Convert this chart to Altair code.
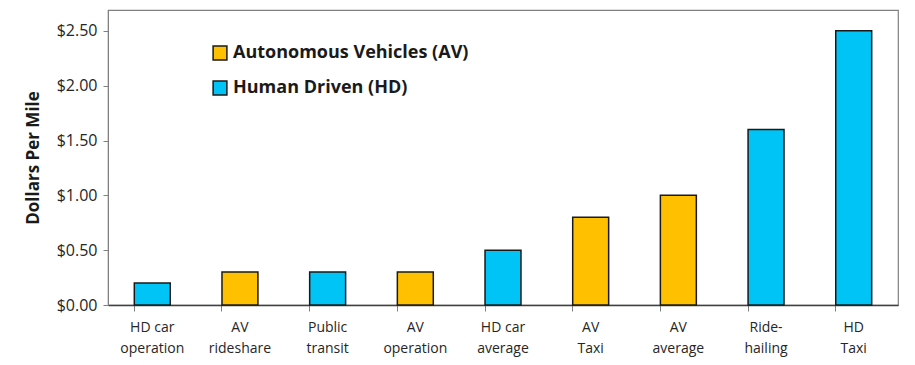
import altair as alt
import pandas as pd

categories = ["HD car\noperation", "AV\nrideshare", "Public\ntransit", "AV\noperation",
              "HD car\naverage", "AV\nTaxi", "AV\naverage", "Ride-\nhailing", "HD\nTaxi"]
values = [0.20, 0.30, 0.30, 0.30, 0.50, 0.80, 1.00, 1.60, 2.50]
groups = ["Human Driven (HD)", "Autonomous Vehicles (AV)", "Human Driven (HD)",
          "Autonomous Vehicles (AV)", "Human Driven (HD)", "Autonomous Vehicles (AV)",
          "Autonomous Vehicles (AV)", "Human Driven (HD)", "Human Driven (HD)"]
legend_order = ["Autonomous Vehicles (AV)", "Human Driven (HD)"]
colors = ["#FFC000", "#00C4F5"]
y_ticks = [0, 0.5, 1.0, 1.5, 2.0, 2.5]

df = pd.DataFrame({"cat": categories, "value": values, "group": groups})

FONT = "Open Sans"

chart = alt.Chart(df).mark_bar(stroke="#1a1a1a", strokeWidth=1.5).encode(
    x=alt.X("cat:N", sort=categories, title=None,
            scale=alt.Scale(paddingInner=0.59, paddingOuter=0.3),
            axis=alt.Axis(labelAngle=0, labelExpr="split(datum.label, '\\n')",
                          labelFontSize=14, labelColor="#262626", labelFont=FONT,
                          labelPadding=9, labelLineHeight=21,
                          bandPosition=0, ticks=True, tickSize=6, tickColor="#808080",
                          domainColor="#404040", domainWidth=1.5)),
    y=alt.Y("value:Q", title="Dollars Per Mile",
            scale=alt.Scale(domain=[0, 2.69], nice=False),
            axis=alt.Axis(values=y_ticks, format="$.2f", grid=False,
                          labelFontSize=16, labelColor="#262626", labelFont=FONT,
                          labelPadding=6, tickSize=5, tickColor="#808080",
                          domainColor="#808080",
                          titleFont=FONT, titleFontSize=17, titleFontWeight="bold",
                          titleColor="#1a1a1a", titlePadding=14)),
    color=alt.Color("group:N", scale=alt.Scale(domain=legend_order, range=colors),
                    legend=alt.Legend(title=None, orient="none", legendX=103, legendY=34,
                                      symbolType="square", symbolSize=190,
                                      symbolStrokeColor="#1a1a1a", symbolStrokeWidth=1.5,
                                      labelFont=FONT, labelFontSize=18, labelFontWeight="bold",
                                      labelColor="#1a1a1a", rowPadding=15, labelOffset=4,
                                      labelLimit=400))
).properties(
    width=790, height=295,
    autosize=alt.AutoSizeParams(type="none"),
    padding={"left": 100, "top": 2, "right": 9, "bottom": 58}
).configure_view(stroke="#808080", strokeWidth=1.2)

chart.save("out.html", embed_options={"renderer": "svg", "actions": False})
